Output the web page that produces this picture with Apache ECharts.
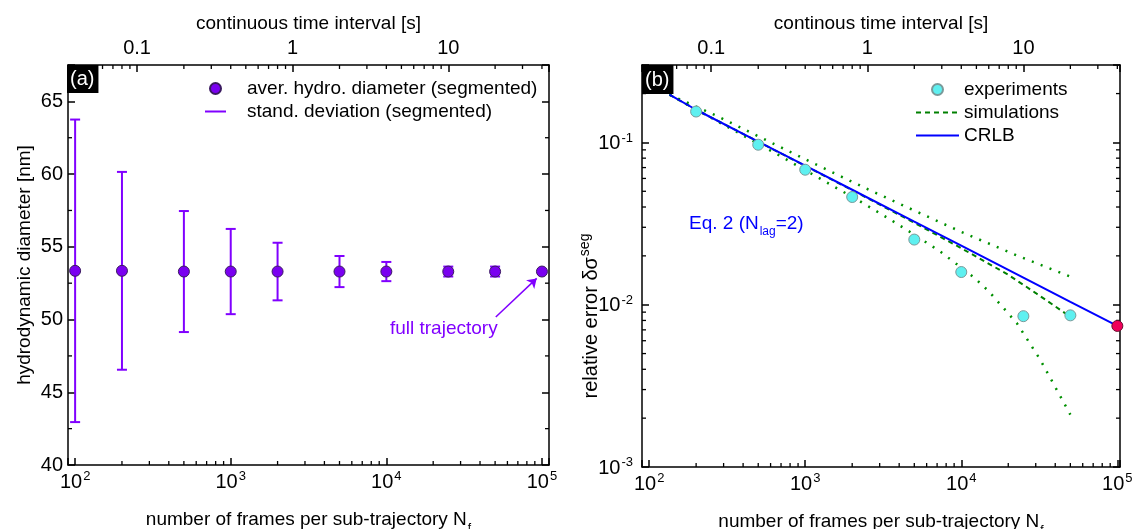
<!DOCTYPE html>
<html>
<head>
<meta charset="utf-8">
<script src="https://cdn.jsdelivr.net/npm/echarts@6/dist/echarts.min.js"></script>
<style>
  html, body { margin: 0; padding: 0; background: #fff; }
  #main { width: 1132px; height: 529px; }
</style>
</head>
<body>
<div id="main"></div>
<script>
// ---- data ----
// (a) segmented hydrodynamic diameter
const frames = [100, 200, 500, 1000, 2000, 5000, 10000, 25000, 50000, 100000];
const meanDiameter = [53.35, 53.35, 53.3, 53.3, 53.3, 53.3, 53.3, 53.3, 53.3, 53.3];
const stdDiameter = [10.4, 6.8, 4.16, 2.93, 1.98, 1.07, 0.66, 0.34, 0.34, 0];

// (b) relative error
const expFrames = [200, 500, 1000, 2000, 5000, 10000, 25000, 50000];
const expError = [0.155, 0.0968, 0.0679, 0.0461, 0.0252, 0.0159, 0.0085, 0.0086];
const fullFrames = [100000];
const fullError = [0.0074];
const crlbFrames = [135, 200, 500, 1000, 2000, 5000, 10000, 25000, 50000, 100000];
const crlbError = [0.197, 0.159, 0.101, 0.0719, 0.0511, 0.0325, 0.0231, 0.0147, 0.0104, 0.0074];
const simFrames = [135, 200, 500, 1000, 2000, 5000, 10000, 20000, 30000, 50000];
const simError = [0.197, 0.159, 0.101, 0.0717, 0.0508, 0.0320, 0.0223, 0.0153, 0.0118, 0.00843];
const simUpperFrames = [135, 270, 1070, 2470, 4360, 10000, 23300, 50000];
const simUpper = [0.197, 0.146, 0.0763, 0.0519, 0.0404, 0.0281, 0.0199, 0.0149];
const simLowerFrames = [135, 270, 670, 2240, 3370, 4920, 7310, 12000, 15000, 22700, 32000, 43000, 50000];
const simLower = [0.197, 0.136, 0.084, 0.0434, 0.0343, 0.0273, 0.0213, 0.0148, 0.0121, 0.0077, 0.0046, 0.00274, 0.0021];

// axis ranges
const framesRangeA = [90, 111000];
const framesRangeB = [90, 104000];
const diameterRange = [40, 67.5];
const errorRange = [0.001, 0.3];
const secondsPerFrame = 0.0004;
const diameterMinorTicks = [42.5, 47.5, 52.5, 57.5, 62.5];

const FONT = 'Liberation Sans, Arial, Helvetica, sans-serif';
const PURPLE = '#8000ff';

const chart = echarts.init(document.getElementById('main'));

function isPow10(v) {
    const e = Math.log10(v);
    return Math.abs(e - Math.round(e)) < 1e-6;
}
function powLabel(v) {
    if (!isPow10(v)) return '';
    return '{b|10}{sup|' + Math.round(Math.log10(v)) + '}';
}
function timeLabel(v) {
    if (!isPow10(v)) return '';
    const e = Math.round(Math.log10(v));
    return e < 0 ? Math.pow(10, e).toFixed(-e) : String(Math.pow(10, e));
}
function logMinor(lo, hi) {
    const out = [];
    for (let e = Math.floor(Math.log10(lo)); e <= Math.ceil(Math.log10(hi)); e++) {
        for (let m = 2; m <= 9; m++) {
            const v = +(m * Math.pow(10, e)).toPrecision(3);
            if (v > lo * 1.001 && v < hi * 0.999) out.push(v);
        }
    }
    return out;
}

const powRich = {
    b: { fontSize: 20, fontFamily: FONT, color: '#000', lineHeight: 22, verticalAlign: 'top', padding: [2, 0, 0, 0] },
    sup: { fontSize: 13, fontFamily: FONT, color: '#000', lineHeight: 14, verticalAlign: 'top', padding: [0, 0, 0, 1] }
};

const axisLine = { show: true, onZero: false, lineStyle: { color: '#000', width: 1.5 } };
const axisTick = { show: true, inside: true, length: 7, lineStyle: { color: '#000', width: 1.5 } };
const nameStyle = { fontSize: 19, fontFamily: FONT, color: '#000' };

// minor ticks drawn through the axes' own scales
function tickSeries(xIdx, yIdx, side, values, ref) {
    const horizontal = side === 'bottom' || side === 'top';
    return {
        type: 'custom',
        xAxisIndex: xIdx,
        yAxisIndex: yIdx,
        silent: true,
        z: 3,
        data: values.map(v => horizontal ? [v, ref] : [ref, v]),
        renderItem(params, api) {
            const cs = params.coordSys;
            const p = api.coord([api.value(0), api.value(1)]);
            const L = 4;
            let shape;
            if (side === 'bottom') shape = { x1: p[0], y1: cs.y + cs.height, x2: p[0], y2: cs.y + cs.height - L };
            else if (side === 'top') shape = { x1: p[0], y1: cs.y, x2: p[0], y2: cs.y + L };
            else if (side === 'left') shape = { x1: cs.x, y1: p[1], x2: cs.x + L, y2: p[1] };
            else shape = { x1: cs.x + cs.width, y1: p[1], x2: cs.x + cs.width - L, y2: p[1] };
            return { type: 'line', shape, style: { stroke: '#000', lineWidth: 1.3 } };
        }
    };
}

const nMinorA = logMinor(framesRangeA[0], framesRangeA[1]);
const nMinorB = logMinor(framesRangeB[0], framesRangeB[1]);
const tMinorA = logMinor(framesRangeA[0] * secondsPerFrame, framesRangeA[1] * secondsPerFrame);
const tMinorB = logMinor(framesRangeB[0] * secondsPerFrame, framesRangeB[1] * secondsPerFrame);
const errMinor = logMinor(errorRange[0], errorRange[1]);

function framesAxis(grid, range) {
    return {
        gridIndex: grid, type: 'log', position: 'bottom', min: range[0], max: range[1],
        axisLine, axisTick, splitLine: { show: false },
        axisLabel: { formatter: powLabel, margin: 5, rich: powRich },
        name: '{a|number of frames per sub-trajectory N}{s|f}',
        nameLocation: 'middle', nameGap: 45, nameMoveOverlap: false,
        nameTextStyle: {
            rich: {
                a: { fontSize: 19, fontFamily: FONT, color: '#000', lineHeight: 22, verticalAlign: 'top' },
                s: { fontSize: 12, fontFamily: FONT, color: '#000', lineHeight: 12, verticalAlign: 'top', padding: [13, 0, 0, 1] }
            }
        }
    };
}
function timeAxis(grid, range, title) {
    return {
        gridIndex: grid, type: 'log', position: 'top',
        min: range[0] * secondsPerFrame, max: range[1] * secondsPerFrame,
        axisLine, axisTick, splitLine: { show: false },
        axisLabel: { formatter: timeLabel, margin: 7, fontSize: 20, fontFamily: FONT, color: '#000' },
        name: title, nameLocation: 'middle', nameGap: 32, nameMoveOverlap: false,
        nameTextStyle: nameStyle
    };
}

const hiddenSymbol = { color: 'rgba(0,0,0,0)', borderWidth: 0, opacity: 0 };

const option = {
    backgroundColor: '#fff',
    animation: false,
    textStyle: { fontFamily: FONT },
    grid: [
        { left: 68, top: 65, width: 481, height: 400, outerBoundsMode: 'none' },
        { left: 642, top: 65, width: 478, height: 402, outerBoundsMode: 'none' }
    ],
    title: [
        { text: '(a)', left: 67, top: 65, backgroundColor: '#000', padding: [3, 4, 3, 3],
          textStyle: { color: '#fff', fontSize: 20, fontWeight: 'normal', fontFamily: FONT, lineHeight: 22 } },
        { text: '(b)', left: 642, top: 65, backgroundColor: '#000', padding: [4, 4, 3, 3],
          textStyle: { color: '#fff', fontSize: 20, fontWeight: 'normal', fontFamily: FONT, lineHeight: 22 } },
        { text: '{a|Eq. 2 (N}{s|lag}{a|=2)}', left: 684, top: 209,
          textStyle: { fontWeight: 'normal', rich: {
              a: { fontSize: 19, fontFamily: FONT, fontWeight: 'normal', color: '#0000ff', lineHeight: 22, verticalAlign: 'top' },
              s: { fontSize: 12, fontFamily: FONT, fontWeight: 'normal', color: '#0000ff', lineHeight: 12, verticalAlign: 'top', padding: [12, 0, 0, 1] }
          } } }
    ],
    legend: [
        { left: 205, top: 79, orient: 'vertical', padding: 0, itemGap: 4, itemWidth: 21, itemHeight: 11,
          selectedMode: false,
          textStyle: { fontSize: 19, fontFamily: FONT, color: '#000', padding: [0, 0, 0, 16] },
          data: [
              { name: 'aver. hydro. diameter (segmented)', icon: 'circle' },
              { name: 'stand. deviation (segmented)', icon: 'path://M0,0H21V2H0Z' }
          ] },
        { left: 915, top: 80, orient: 'vertical', padding: 0, itemGap: 4, itemWidth: 43, itemHeight: 11,
          selectedMode: false,
          textStyle: { fontSize: 19, fontFamily: FONT, color: '#000' },
          data: [
              { name: 'experiments', icon: 'circle' },
              { name: 'simulations', itemStyle: hiddenSymbol },
              { name: 'CRLB', itemStyle: hiddenSymbol }
          ] }
    ],
    xAxis: [
        framesAxis(0, framesRangeA),
        timeAxis(0, framesRangeA, 'continuous time interval [s]'),
        framesAxis(1, framesRangeB),
        timeAxis(1, framesRangeB, 'continous time interval [s]')
    ],
    yAxis: [
        { gridIndex: 0, type: 'value', position: 'left', min: diameterRange[0], max: diameterRange[1], interval: 5,
          axisLine, axisTick, splitLine: { show: false },
          axisLabel: { formatter: v => (v % 5 === 0 ? String(v) : ''), margin: 5, fontSize: 20, fontFamily: FONT, color: '#000' },
          name: 'hydrodynamic diameter [nm]', nameLocation: 'middle', nameGap: 34, nameMoveOverlap: false,
          nameTextStyle: nameStyle },
        { gridIndex: 0, type: 'value', position: 'right', min: diameterRange[0], max: diameterRange[1], interval: 5,
          axisLine, axisTick, splitLine: { show: false }, axisLabel: { show: false } },
        { gridIndex: 1, type: 'log', position: 'left', min: errorRange[0], max: errorRange[1],
          axisLine, axisTick, splitLine: { show: false },
          axisLabel: { formatter: powLabel, margin: 9, rich: powRich },
          name: '{a|relative error δσ}{sup|seg}', nameLocation: 'middle', nameGap: 42, nameMoveOverlap: false,
          nameTextStyle: {
              padding: [0, 100, 0, 0],
              rich: {
                  a: { fontSize: 20, fontFamily: FONT, color: '#000', lineHeight: 22, verticalAlign: 'top', padding: [3, 0, 0, 0] },
                  sup: { fontSize: 14, fontFamily: FONT, color: '#000', lineHeight: 15, verticalAlign: 'top', padding: [0, 0, 0, 1] }
              }
          } },
        { gridIndex: 1, type: 'log', position: 'right', min: errorRange[0], max: errorRange[1],
          axisLine, axisTick, splitLine: { show: false }, axisLabel: { show: false } }
    ],
    series: [
        // ---- panel (a) ----
        {
            name: 'stand. deviation (segmented)',
            type: 'custom', xAxisIndex: 0, yAxisIndex: 0, z: 4,
            itemStyle: { color: PURPLE },
            data: frames.map((n, i) => [n, meanDiameter[i], stdDiameter[i]]),
            encode: { x: 0, y: 1 },
            renderItem(params, api) {
                const sd = api.value(2);
                if (!sd) return null;
                const n = api.value(0), m = api.value(1);
                const top = api.coord([n, m + sd]);
                const bot = api.coord([n, m - sd]);
                const w = 5;
                const st = { stroke: PURPLE, lineWidth: 2 };
                return { type: 'group', children: [
                    { type: 'line', shape: { x1: top[0], y1: top[1], x2: bot[0], y2: bot[1] }, style: st },
                    { type: 'line', shape: { x1: top[0] - w, y1: top[1], x2: top[0] + w, y2: top[1] }, style: st },
                    { type: 'line', shape: { x1: bot[0] - w, y1: bot[1], x2: bot[0] + w, y2: bot[1] }, style: st }
                ] };
            }
        },
        {
            name: 'aver. hydro. diameter (segmented)',
            type: 'scatter', xAxisIndex: 0, yAxisIndex: 0, z: 5,
            symbolSize: 11,
            itemStyle: { color: '#7a00f0', borderColor: '#3a1a60', borderWidth: 1, opacity: 1 },
            data: frames.map((n, i) => [n, meanDiameter[i]]),
            markLine: {
                silent: true, symbol: ['none', 'arrow'], symbolSize: 9,
                lineStyle: { color: PURPLE, width: 1.5, type: 'solid' },
                label: { show: false },
                data: [[{ coord: [50500, 50.18] }, { coord: [92500, 52.83] }]]
            },
            markPoint: {
                silent: true, symbol: 'rect', symbolSize: 1,
                itemStyle: { color: 'rgba(0,0,0,0)' },
                label: { show: true, position: 'inside', formatter: 'full trajectory',
                         fontSize: 19, fontFamily: FONT, color: PURPLE },
                data: [{ coord: [23400, 49.4] }]
            }
        },
        tickSeries(0, 0, 'bottom', nMinorA, 50),
        tickSeries(1, 0, 'top', tMinorA, 50),
        tickSeries(0, 0, 'left', diameterMinorTicks, 1000),
        tickSeries(0, 0, 'right', diameterMinorTicks, 1000),

        // ---- panel (b) ----
        {
            name: 'sim upper', type: 'line', xAxisIndex: 2, yAxisIndex: 2, z: 3,
            symbol: 'none', showSymbol: false,
            lineStyle: { color: '#009000', width: 2.5, type: [2, 7.5] },
            data: simUpperFrames.map((n, i) => [n, simUpper[i]])
        },
        {
            name: 'sim lower', type: 'line', xAxisIndex: 2, yAxisIndex: 2, z: 3,
            symbol: 'none', showSymbol: false,
            lineStyle: { color: '#009000', width: 2.5, type: [2, 7.5] },
            data: simLowerFrames.map((n, i) => [n, simLower[i]])
        },
        {
            name: 'simulations', type: 'line', xAxisIndex: 2, yAxisIndex: 2, z: 3,
            symbol: 'none', showSymbol: false,
            lineStyle: { color: '#008000', width: 2, type: [5, 4] },
            itemStyle: { color: '#008000' },
            data: simFrames.map((n, i) => [n, simError[i]])
        },
        {
            name: 'CRLB', type: 'line', xAxisIndex: 2, yAxisIndex: 2, z: 4,
            symbol: 'none', showSymbol: false,
            lineStyle: { color: '#0000ff', width: 2 },
            itemStyle: { color: '#0000ff' },
            data: crlbFrames.map((n, i) => [n, crlbError[i]])
        },
        {
            name: 'experiments', type: 'scatter', xAxisIndex: 2, yAxisIndex: 2, z: 5,
            symbolSize: 11,
            itemStyle: { color: '#5ef0f0', borderColor: '#7a9a9a', borderWidth: 1, opacity: 1 },
            data: expFrames.map((n, i) => [n, expError[i]])
        },
        {
            name: 'full trajectory', type: 'scatter', xAxisIndex: 2, yAxisIndex: 2, z: 6,
            symbolSize: 11,
            itemStyle: { color: '#f0005a', borderColor: '#6a1030', borderWidth: 1, opacity: 1 },
            data: fullFrames.map((n, i) => [n, fullError[i]])
        },
        tickSeries(2, 2, 'bottom', nMinorB, 0.01),
        tickSeries(3, 2, 'top', tMinorB, 0.01),
        tickSeries(2, 2, 'left', errMinor, 1000),
        tickSeries(2, 2, 'right', errMinor, 1000)
    ]
};

chart.setOption(option);
</script>
</body>
</html>
